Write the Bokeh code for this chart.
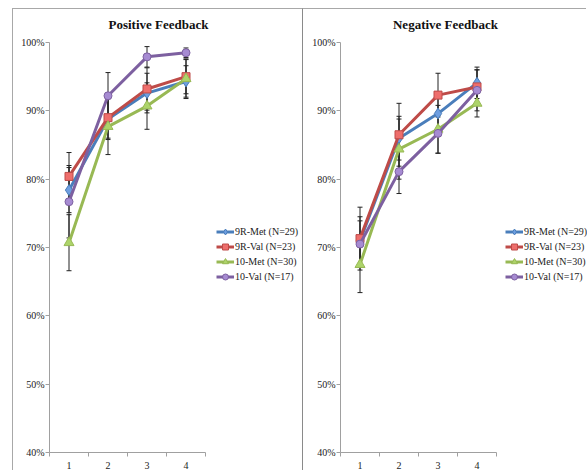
from bokeh.plotting import figure
from bokeh.models import (ColumnDataSource, Whisker, TeeHead, Legend, LegendItem,
                          FixedTicker, PrintfTickFormatter, Range1d, Label, Spacer)
from bokeh.layouts import row, column
from bokeh.embed import file_html
from bokeh.resources import INLINE

# ---------------- data ----------------
sessions = [1, 2, 3, 4]
session_labels = ["1", "2", "3", "4"]
series_names = ["9R-Met (N=29)", "9R-Val (N=23)", "10-Met (N=30)", "10-Val (N=17)"]
y_ticks = [40, 50, 60, 70, 80, 90, 100]

# Positive feedback (% correct)
pos_9r_met = [78.4, 88.8, 92.6, 94.3]
pos_9r_val = [80.4, 89.0, 93.2, 95.0]
pos_10_met = [70.7, 87.7, 90.7, 94.7]
pos_10_val = [76.7, 92.2, 97.9, 98.5]
pos_9r_met_err = [3.3, 3.0, 2.9, 2.3]
pos_9r_val_err = [3.5, 3.0, 3.1, 2.5]
pos_10_met_err = [4.1, 4.1, 3.4, 2.9]
pos_10_val_err = [5.3, 3.4, 1.5, 0.7]

# Negative feedback (% correct)
neg_9r_met = [71.0, 86.0, 89.6, 94.1]
neg_9r_val = [71.3, 86.5, 92.3, 93.5]
neg_10_met = [67.5, 84.4, 87.3, 91.1]
neg_10_val = [70.5, 81.1, 86.7, 93.0]
neg_9r_met_err = [3.5, 3.2, 3.0, 2.3]
neg_9r_val_err = [4.6, 4.6, 3.2, 2.5]
neg_10_met_err = [4.1, 4.4, 3.5, 2.0]
neg_10_val_err = [3.4, 3.2, 2.9, 3.0]

# ---------------- styles / layout ----------------
line_colors = ["#4A7EBB", "#BE4B48", "#98B954", "#7D60A0"]
fill_colors = ["#6E9EE0", "#EE6E6C", "#ADD46A", "#A68BD2"]
markers = ["diamond", "square", "triangle", "circle"]
marker_sizes = [11, 8, 10, 8]
SERIF = "Liberation Serif"
AXIS_GRAY = "#A0A0A0"
PX_PER_SESSION = 39.0       # horizontal pixels per session slot
PANEL_H = 462
BORDER_BOTTOM = 19
PLOT_TOP_GAP = 33            # px between canvas top and the 100% line
Y_LO, Y_HI = 40, 100


def make_panel(title, means, errs, width, left, legend_x, border_left):
    frame_w = width - left
    frame_h = PANEL_H - BORDER_BOTTOM
    px_per_unit = (frame_h - PLOT_TOP_GAP) / (Y_HI - Y_LO)
    x_end = 0.5 + frame_w / PX_PER_SESSION
    y_end = Y_LO + frame_h / px_per_unit

    p = figure(width=width, height=PANEL_H, output_backend="svg", toolbar_location=None,
               x_range=Range1d(0.5, x_end), y_range=Range1d(Y_LO, y_end),
               min_border_left=left, min_border_right=0,
               min_border_top=0, min_border_bottom=BORDER_BOTTOM)
    p.outline_line_color = None
    p.background_fill_color = "white"
    p.border_fill_color = "white"
    p.xgrid.visible = False
    p.ygrid.visible = False

    xa = p.xaxis[0]
    xa.bounds = (0.5, 4.5)
    xa.ticker = FixedTicker(ticks=sessions, minor_ticks=[0.5, 1.5, 2.5, 3.5, 4.5])
    xa.major_label_overrides = {s: l for s, l in zip(sessions, session_labels)}
    xa.major_tick_out = 0
    xa.major_tick_in = 0
    xa.minor_tick_out = 4
    xa.minor_tick_in = 0
    xa.minor_tick_line_color = AXIS_GRAY
    xa.axis_line_color = AXIS_GRAY
    xa.major_label_standoff = 5
    xa.major_label_text_font = SERIF
    xa.major_label_text_font_size = "10px"
    xa.major_label_text_color = "#222222"

    ya = p.yaxis[0]
    ya.bounds = (Y_LO, Y_HI)
    ya.ticker = FixedTicker(ticks=y_ticks, minor_ticks=[])
    ya.formatter = PrintfTickFormatter(format="%d%%")
    ya.major_tick_out = 4
    ya.major_tick_in = 0
    ya.major_tick_line_color = AXIS_GRAY
    ya.axis_line_color = AXIS_GRAY
    ya.major_label_standoff = 1
    ya.major_label_text_font = SERIF
    ya.major_label_text_font_size = "10px"
    ya.major_label_text_color = "#222222"

    # title: centred over the whole panel (screen units relative to the frame)
    panel_center = width / 2.0 - left
    p.add_layout(Label(x=panel_center, y=frame_h - 15, x_units="screen", y_units="screen",
                       text=title, text_align="center", text_baseline="middle",
                       text_font=SERIF, text_font_size="13px", text_font_style="bold",
                       text_color="#111111"))

    items = []
    for i, (m, e) in enumerate(zip(means, errs)):
        src = ColumnDataSource(dict(
            x=sessions, y=m,
            upper=[a + b for a, b in zip(m, e)],
            lower=[a - b for a, b in zip(m, e)]))
        lr = p.line("x", "y", source=src, line_color=line_colors[i], line_width=3)
        sr = p.scatter("x", "y", source=src, marker=markers[i], size=marker_sizes[i],
                       fill_color=fill_colors[i], line_color=line_colors[i], line_width=1)
        w = Whisker(base="x", upper="upper", lower="lower", source=src,
                    line_color="#222222", line_width=1,
                    upper_head=TeeHead(size=5, line_color="#222222", line_width=1),
                    lower_head=TeeHead(size=5, line_color="#222222", line_width=1))
        p.add_layout(w)
        items.append(LegendItem(label=series_names[i], renderers=[lr, sr]))

    leg = Legend(items=items, location=(legend_x, 168),
                 label_text_font=SERIF, label_text_font_size="10px",
                 label_text_color="#222222",
                 glyph_width=18, glyph_height=15, label_height=15,
                 spacing=0, padding=0, margin=0, label_standoff=1,
                 border_line_color=None, background_fill_alpha=0)
    p.add_layout(leg)

    p.styles = {"border-top": "1px solid #A8A8A8", "border-left": "1px solid " + border_left}
    return p


p1 = make_panel("Positive Feedback",
                [pos_9r_met, pos_9r_val, pos_10_met, pos_10_val],
                [pos_9r_met_err, pos_9r_val_err, pos_10_met_err, pos_10_val_err],
                width=290, left=36, legend_x=167, border_left="#A8A8A8")
p2 = make_panel("Negative Feedback",
                [neg_9r_met, neg_9r_val, neg_10_met, neg_10_val],
                [neg_9r_met_err, neg_9r_val_err, neg_10_met_err, neg_10_val_err],
                width=284, left=37, legend_x=165, border_left="#8A8A8A")

layout = column(Spacer(width=586, height=8),
                row(Spacer(width=12, height=PANEL_H), p1, p2))

with open("out.html", "w") as f:
    f.write(file_html(layout, INLINE))
